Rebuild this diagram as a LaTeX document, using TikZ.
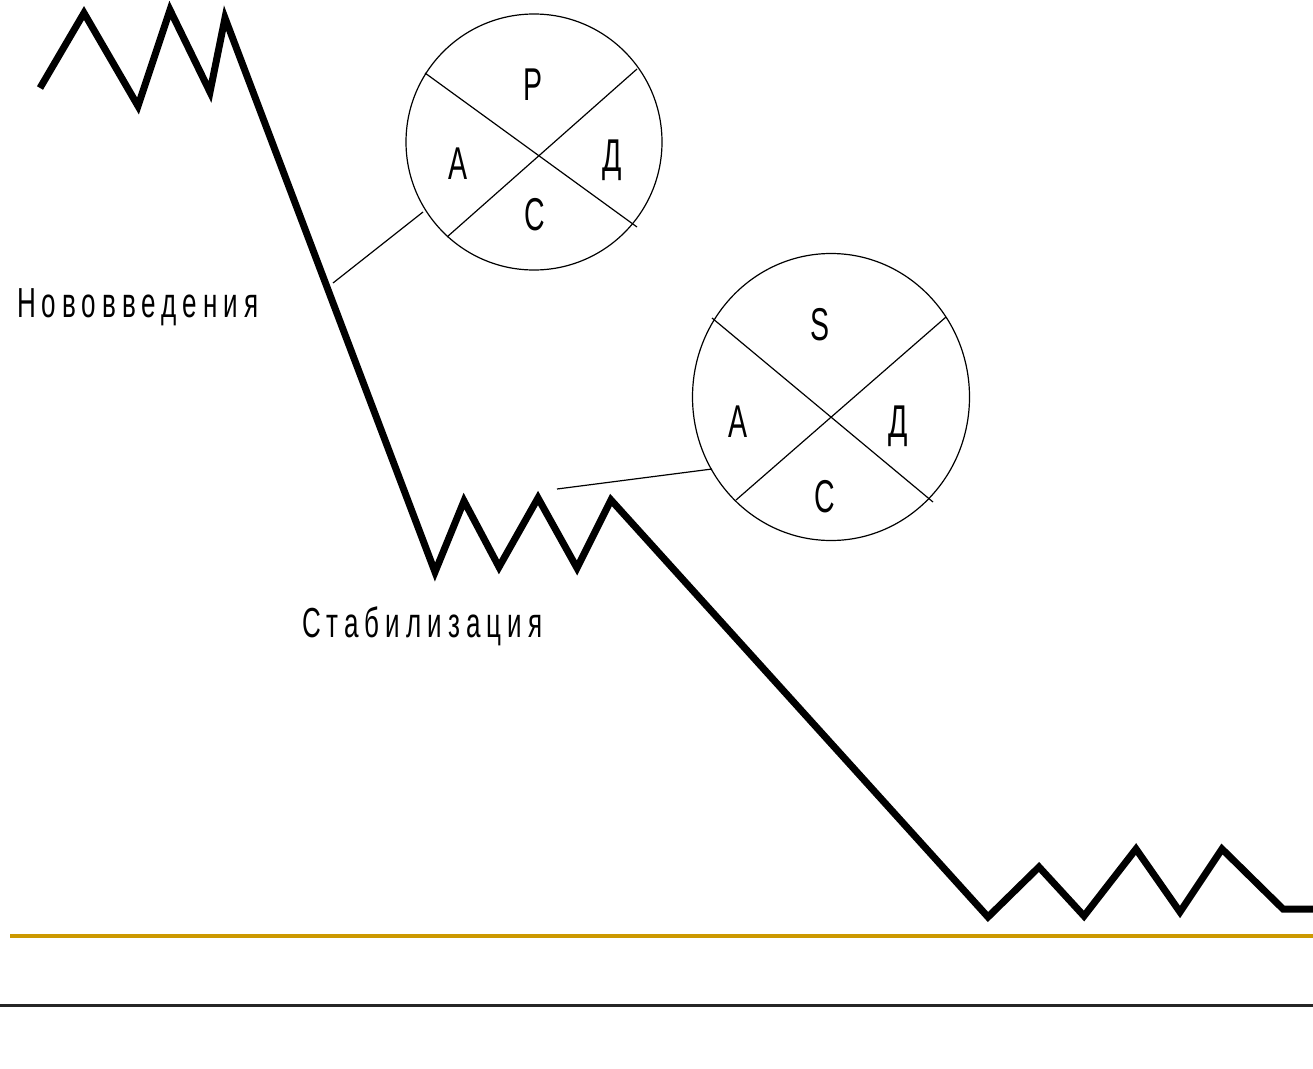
\documentclass[tikz,border=0pt]{standalone}
\usepackage{fontspec}
\setmainfont{Liberation Sans}
\usetikzlibrary{shapes.geometric}
\definecolor{gold}{HTML}{CC9900}
\tikzset{
  zig/.style={line width=7pt, line join=miter, black},
  thin/.style={line width=1.2pt, black},
  ring/.style={draw, line width=1.2pt, inner sep=0pt},
  letter/.style={font=\fontsize{46}{50}\selectfont, xscale=0.62, inner sep=0pt},
  word/.style={font=\fontsize{42}{46}\selectfont\addfontfeature{LetterSpace=23}, xscale=0.62, inner sep=0pt, anchor=base west},
}
\begin{document}
\begin{tikzpicture}[x=1pt,y=-1pt]
\useasboundingbox (0,0) rectangle (1313,1068);
% main zigzag
\coordinate (p0) at (40,88);
\coordinate (p1) at (84,13);
\coordinate (p2) at (138,106);
\coordinate (p3) at (170,10);
\coordinate (p4) at (210,92);
\coordinate (p5) at (225,18);
\coordinate (p6) at (435,572);
\coordinate (p7) at (464,501);
\coordinate (p8) at (499,567);
\coordinate (p9) at (538,498);
\coordinate (p10) at (577,568);
\coordinate (p11) at (611,500);
\coordinate (p12) at (988,917);
\coordinate (p13) at (1039,867);
\coordinate (p14) at (1084,916);
\coordinate (p15) at (1136,849);
\coordinate (p16) at (1180,912);
\coordinate (p17) at (1222,849);
\coordinate (p18) at (1283,909);
\coordinate (p19) at (1313,909);
\draw[zig] (p0) -- (p1) -- (p2) -- (p3) -- (p4) -- (p5) -- (p6) -- (p7) -- (p8) -- (p9) -- (p10) -- (p11) -- (p12) -- (p13) -- (p14) -- (p15) -- (p16) -- (p17) -- (p18) -- (p19);
% bottom rules
\coordinate (g0) at (10,936);
\coordinate (g1) at (1313,936);
\draw[gold, line width=4pt] (g0) -- (g1);
\coordinate (b0) at (0,1005);
\coordinate (b1) at (1313,1005);
\draw[black!85, line width=3pt] (b0) -- (b1);
% circle 1
\node[ring, circle, minimum size=256pt] (c1) at (534,142) {};
\coordinate (c1a) at (425,73);
\coordinate (c1b) at (637,227);
\coordinate (c1c) at (637,69);
\coordinate (c1d) at (447,237);
\draw[thin] (c1a) -- (c1b);
\draw[thin] (c1c) -- (c1d);
\node[letter] (c1P) at (533,85) {Р};
\node[letter] (c1D) at (612,160) {Д};
\node[letter] (c1A) at (458,164) {А};
\node[letter] (c1C) at (535,215) {С};
\coordinate (c1k) at (423,212);
\coordinate (m1) at (333,283);
\draw[thin] (c1k) -- (m1);
% circle 2
\node[ring, ellipse, minimum width=277pt, minimum height=287pt] (c2) at (831,397) {};
\coordinate (c2a) at (712,318);
\coordinate (c2b) at (933,502);
\coordinate (c2c) at (946,317);
\coordinate (c2d) at (736,500);
\draw[thin] (c2a) -- (c2b);
\draw[thin] (c2c) -- (c2d);
\node[letter] (c2S) at (820,325) {S};
\node[letter] (c2A) at (738,422) {А};
\node[letter] (c2D) at (898,426) {Д};
\node[letter] (c2C) at (825,497) {С};
\coordinate (c2k) at (712,469);
\coordinate (m2) at (557,489);
\draw[thin] (c2k) -- (m2);
% labels
\node[word] (t1) at (17,317) {Нововведения};
\node[word] (t2) at (302,637) {Стабилизация};
\end{tikzpicture}
\end{document}
